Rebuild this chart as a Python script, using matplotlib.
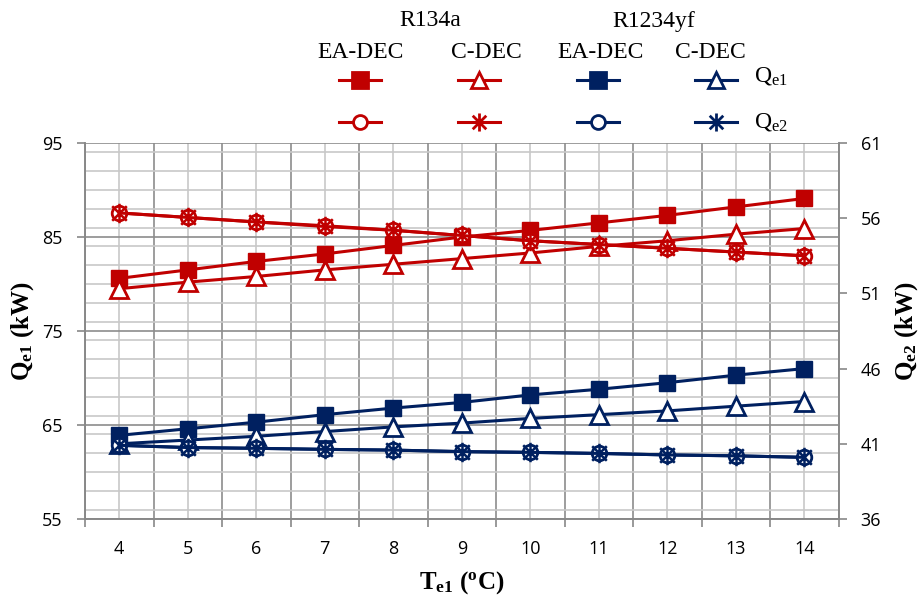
import numpy as np
import matplotlib
matplotlib.use("Agg")
import matplotlib.pyplot as plt
from matplotlib.lines import Line2D
from matplotlib.path import Path
from matplotlib.ticker import MultipleLocator, FixedLocator, NullFormatter

# ---------------- data ----------------
T_e1 = [4, 5, 6, 7, 8, 9, 10, 11, 12, 13, 14]

r134a_ea_qe1 = [80.6, 81.5, 82.4, 83.2, 84.1, 85.0, 85.7, 86.5, 87.3, 88.2, 89.1]
r134a_c_qe1 = [79.5, 80.2, 80.8, 81.5, 82.1, 82.7, 83.3, 84.0, 84.6, 85.3, 85.9]
r134a_ea_qe2 = [56.35, 56.05, 55.75, 55.5, 55.2, 54.85, 54.5, 54.25, 54.0, 53.75, 53.5]
r134a_c_qe2 = [56.35, 56.05, 55.75, 55.45, 55.2, 54.85, 54.5, 54.25, 54.0, 53.75, 53.5]

r1234yf_ea_qe1 = [63.9, 64.6, 65.3, 66.1, 66.8, 67.4, 68.2, 68.8, 69.5, 70.3, 71.0]
r1234yf_c_qe1 = [63.0, 63.4, 63.8, 64.3, 64.8, 65.2, 65.7, 66.1, 66.5, 67.0, 67.5]
r1234yf_ea_qe2 = [40.9, 40.75, 40.7, 40.63, 40.58, 40.48, 40.43, 40.36, 40.26, 40.2, 40.1]
r1234yf_c_qe2 = [40.9, 40.75, 40.7, 40.63, 40.58, 40.48, 40.43, 40.36, 40.26, 40.2, 40.1]

x_tick_labels = [str(t) for t in T_e1]
left_ticks = [55, 65, 75, 85, 95]
right_ticks = [36, 41, 46, 51, 56, 61]

RED = "#C00000"
NAVY = "#002060"

serif = "Liberation Serif"
tick_font = "Open Sans"
plt.rcParams["mathtext.fontset"] = "custom"
plt.rcParams["mathtext.rm"] = "Liberation Serif"
plt.rcParams["mathtext.it"] = "Liberation Serif:italic"
plt.rcParams["mathtext.bf"] = "Liberation Serif:bold"

# Excel-like star marker: vertical line + X
STAR = Path(
    [(0, -1), (0, 1), (-0.75, -0.75), (0.75, 0.75), (-0.75, 0.75), (0.75, -0.75)],
    [Path.MOVETO, Path.LINETO, Path.MOVETO, Path.LINETO, Path.MOVETO, Path.LINETO],
)

W, H = 922, 602
fig = plt.figure(figsize=(W / 100, H / 100), dpi=100)
ax = fig.add_axes([85 / W, 1 - 519 / H, (838.5 - 85) / W, (519 - 143) / H])
ax2 = ax.twinx()

xpos = np.arange(len(T_e1))

lw = 2.2
ms = 12
# Qe1 on left axis
ax.plot(xpos, r134a_ea_qe1, color=RED, lw=lw, marker="s", ms=ms, mfc=RED, mec=RED, zorder=5)
ax.plot(xpos, r134a_c_qe1, color=RED, lw=lw, marker="^", ms=ms + 0.5, mfc="white", mec=RED, mew=2, zorder=5)
ax.plot(xpos, r1234yf_ea_qe1, color=NAVY, lw=lw, marker="s", ms=ms, mfc=NAVY, mec=NAVY, zorder=5)
ax.plot(xpos, r1234yf_c_qe1, color=NAVY, lw=lw, marker="^", ms=ms + 0.5, mfc="white", mec=NAVY, mew=2, zorder=5)

# Qe2 on right axis
ax2.plot(xpos, r134a_ea_qe2, color=RED, lw=lw, marker="o", ms=10.5, mfc="white", mec=RED, mew=2, zorder=5)
ax2.plot(xpos, r134a_c_qe2, color=RED, lw=lw, marker=STAR, ms=14, mec=RED, mew=1.8, zorder=6)
ax2.plot(xpos, r1234yf_ea_qe2, color=NAVY, lw=lw, marker="o", ms=10.5, mfc="white", mec=NAVY, mew=2, zorder=5)
ax2.plot(xpos, r1234yf_c_qe2, color=NAVY, lw=lw, marker=STAR, ms=14, mec=NAVY, mew=1.8, zorder=6)

# axes limits and ticks
ax.set_xlim(-0.5, len(T_e1) - 0.5)
ax.set_ylim(55, 95)
ax2.set_ylim(36, 61)

ax.xaxis.set_major_locator(FixedLocator(np.arange(-0.5, len(T_e1), 1)))
ax.xaxis.set_major_formatter(NullFormatter())
ax.xaxis.set_minor_locator(FixedLocator(xpos))
ax.set_xticklabels(x_tick_labels, minor=True)
ax.tick_params(axis="x", which="major", direction="out", length=6, color="#888888", width=1.2)
ax.tick_params(axis="x", which="minor", length=0, pad=15, labelsize=13)

ax.set_yticks(left_ticks)
ax.yaxis.set_minor_locator(MultipleLocator(2))
ax.tick_params(axis="y", which="major", direction="out", length=6, color="#888888", width=1.2, labelsize=13, pad=10)
ax.tick_params(axis="y", which="minor", length=0)
ax2.set_yticks(right_ticks)
ax2.tick_params(axis="y", which="major", direction="out", length=6, color="#888888", width=1.2, labelsize=13, pad=10)

for lab in ax.get_xticklabels(minor=True) + ax.get_yticklabels() + ax2.get_yticklabels():
    lab.set_fontfamily(tick_font)

ax.grid(True, which="major", axis="both", color="#8c8c8c", lw=1.2)
ax.grid(True, which="minor", axis="both", color="#c8c8c8", lw=1.2)
ax.set_axisbelow(True)

for a in (ax, ax2):
    a.spines["top"].set_visible(False)
    for s in ("left", "right", "bottom"):
        a.spines[s].set_color("#888888")
        a.spines[s].set_linewidth(1.2)

ax.set_ylabel(r"$\mathbf{Q_{e1}}$ (kW)", family=serif, weight="bold", fontsize=18)
ax2.set_ylabel(r"$\mathbf{Q_{e2}}$ (kW)", family=serif, weight="bold", fontsize=18)
ax.set_xlabel(r"$\mathbf{T_{e1}}$ ($\mathbf{^o}$C)", family=serif, weight="bold", fontsize=18, labelpad=8)
axw = 838.5 - 85
ax.yaxis.set_label_coords((23 - 85) / axw, 0.5)
ax2.yaxis.set_label_coords((907 - 85) / axw, 0.5)
ax.yaxis.label.set_va("center")
ax2.yaxis.label.set_va("center")

# ---------------- legend (custom layout) ----------------
def fx(px):
    return px / W

def fy(py):
    return 1 - py / H

fig.text(fx(430), fy(21), "R134a", family=serif, fontsize=17, ha="center", va="center")
fig.text(fx(654), fy(21), "R1234yf", family=serif, fontsize=17, ha="center", va="center")
for cx, t in [(361, "EA-DEC"), (486, "C-DEC"), (601, "EA-DEC"), (710, "C-DEC")]:
    fig.text(fx(cx), fy(53), t, family=serif, fontsize=17, ha="center", va="center")

legend_specs = [
    (360, 80, RED, "s", RED, 11), (479, 80, RED, "^", "white", 11),
    (598, 80, NAVY, "s", NAVY, 11), (716, 80, NAVY, "^", "white", 11),
    (360, 122, RED, "o", "white", 10), (479, 122, RED, STAR, RED, 13),
    (598, 122, NAVY, "o", "white", 10), (716, 122, NAVY, STAR, NAVY, 13),
]
for cx, cy, col, mk, fc, msz in legend_specs:
    ln = Line2D([fx(cx - 21), fx(cx), fx(cx + 21)], [fy(cy)] * 3, transform=fig.transFigure,
                color=col, lw=lw, marker=mk, markevery=[1], ms=msz,
                mfc=fc, mec=col, mew=2)
    fig.add_artist(ln)

fig.text(fx(754), fy(76), r"Q$_{\mathrm{e1}}$", family=serif, fontsize=17, ha="left", va="center")
fig.text(fx(754), fy(122), r"Q$_{\mathrm{e2}}$", family=serif, fontsize=17, ha="left", va="center")

fig.savefig("out.png", dpi=100)
